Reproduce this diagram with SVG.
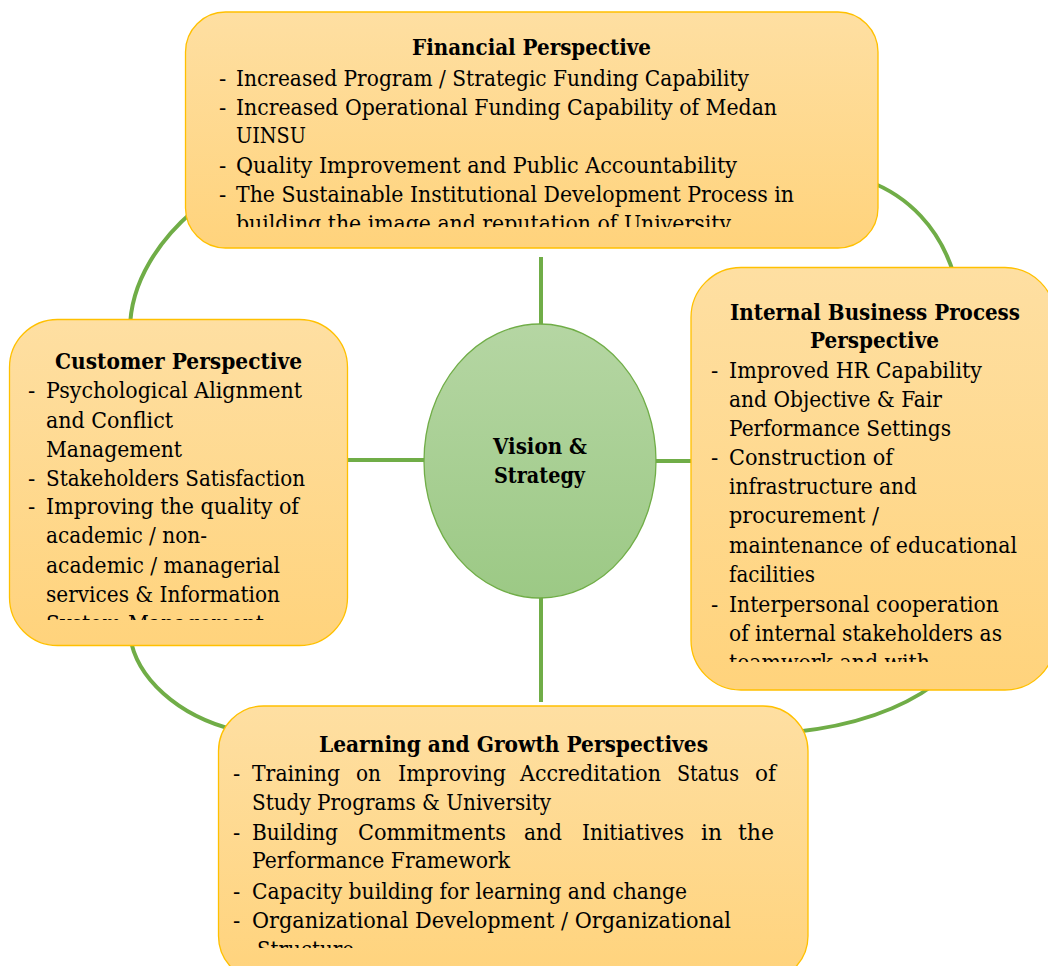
<svg xmlns="http://www.w3.org/2000/svg" width="1048" height="966" viewBox="0 0 1048 966">
<style>
.box{fill:url(#gBox);stroke:#FFC000;stroke-width:1.3}
.t{font-family:"DejaVu Serif","Liberation Serif",serif;font-size:21.5px;fill:#000}
.b{font-family:"DejaVu Serif","Liberation Serif",serif;font-size:21.5px;font-weight:bold;fill:#000}
.c{fill:none;stroke:#70AD47;stroke-width:4}
</style>
<defs>
<linearGradient id="gBox" x1="0" y1="0" x2="0" y2="1">
<stop offset="0" stop-color="#FEDFA2"/>
<stop offset="1" stop-color="#FFD37C"/>
</linearGradient>
<linearGradient id="gEll" x1="0" y1="0" x2="0" y2="1">
<stop offset="0" stop-color="#B5D6A3"/>
<stop offset="1" stop-color="#9CC985"/>
</linearGradient>
<clipPath id="cpF"><rect x="185" y="12" width="693" height="215"/></clipPath>
<clipPath id="cpC"><rect x="10" y="320" width="338" height="300"/></clipPath>
<clipPath id="cpI"><rect x="691" y="268" width="364" height="394"/></clipPath>
<clipPath id="cpL"><rect x="218" y="706" width="590" height="242"/></clipPath>
</defs>

<g id="connectors">
<path class="c" d="M192,212 C162,238 130,280 130,330"/>
<path class="c" d="M868,181 C908,196 940,228 954,275"/>
<path class="c" d="M130,636 C136,678 178,716 235,730"/>
<path class="c" d="M795,732 C850,726 900,710 935,684"/>
<line class="c" x1="541" y1="257" x2="541" y2="326"/>
<line class="c" x1="541" y1="596" x2="541" y2="702"/>
<line class="c" x1="346" y1="460" x2="426" y2="460"/>
<line class="c" x1="654" y1="461" x2="692" y2="461"/>
</g>

<g id="financial">
<rect class="box" x="185.5" y="12" width="692.5" height="236" rx="40" ry="40"/>
<g clip-path="url(#cpF)">
<text class="b" x="412" y="55" textLength="239" lengthAdjust="spacingAndGlyphs">Financial Perspective</text>
<text class="t" x="219" y="86">-</text>
<text class="t" x="236" y="86" textLength="513" lengthAdjust="spacingAndGlyphs">Increased Program / Strategic Funding Capability</text>
<text class="t" x="219" y="115">-</text>
<text class="t" x="236" y="115" textLength="541" lengthAdjust="spacingAndGlyphs">Increased Operational Funding Capability of Medan</text>
<text class="t" x="236" y="143" textLength="70" lengthAdjust="spacingAndGlyphs">UINSU</text>
<text class="t" x="219" y="173">-</text>
<text class="t" x="236" y="173" textLength="501" lengthAdjust="spacingAndGlyphs">Quality Improvement and Public Accountability</text>
<text class="t" x="219" y="202">-</text>
<text class="t" x="236" y="202" textLength="558" lengthAdjust="spacingAndGlyphs">The Sustainable Institutional Development Process in</text>
<text class="t" x="236" y="231" textLength="495" lengthAdjust="spacingAndGlyphs">building the image and reputation of University</text>
</g>
</g>

<g id="customer">
<rect class="box" x="9.5" y="319.5" width="338" height="326" rx="48" ry="48"/>
<g clip-path="url(#cpC)">
<text class="b" x="55" y="369" textLength="247" lengthAdjust="spacingAndGlyphs">Customer Perspective</text>
<text class="t" x="28" y="398">-</text>
<text class="t" x="46" y="398" textLength="256" lengthAdjust="spacingAndGlyphs">Psychological Alignment</text>
<text class="t" x="46" y="428" textLength="127" lengthAdjust="spacingAndGlyphs">and Conflict</text>
<text class="t" x="46" y="457" textLength="136" lengthAdjust="spacingAndGlyphs">Management</text>
<text class="t" x="28" y="486">-</text>
<text class="t" x="46" y="486" textLength="259" lengthAdjust="spacingAndGlyphs">Stakeholders Satisfaction</text>
<text class="t" x="28" y="514">-</text>
<text class="t" x="46" y="514" textLength="253" lengthAdjust="spacingAndGlyphs">Improving the quality of</text>
<text class="t" x="46" y="543" textLength="161" lengthAdjust="spacingAndGlyphs">academic / non-</text>
<text class="t" x="46" y="573" textLength="234" lengthAdjust="spacingAndGlyphs">academic / managerial</text>
<text class="t" x="46" y="602" textLength="234" lengthAdjust="spacingAndGlyphs">services &amp; Information</text>
<text class="t" x="46" y="631" textLength="218" lengthAdjust="spacingAndGlyphs">System Management</text>
</g>
</g>

<g id="internal">
<rect class="box" x="691" y="267.5" width="364" height="422.5" rx="50" ry="50"/>
<g clip-path="url(#cpI)">
<text class="b" x="730" y="320" textLength="290" lengthAdjust="spacingAndGlyphs">Internal Business Process</text>
<text class="b" x="810" y="348" textLength="129" lengthAdjust="spacingAndGlyphs">Perspective</text>
<text class="t" x="711" y="378">-</text>
<text class="t" x="729" y="378" textLength="253" lengthAdjust="spacingAndGlyphs">Improved HR Capability</text>
<text class="t" x="729" y="407" textLength="213" lengthAdjust="spacingAndGlyphs">and Objective &amp; Fair</text>
<text class="t" x="729" y="436" textLength="222" lengthAdjust="spacingAndGlyphs">Performance Settings</text>
<text class="t" x="711" y="465">-</text>
<text class="t" x="729" y="465" textLength="164" lengthAdjust="spacingAndGlyphs">Construction of</text>
<text class="t" x="729" y="494" textLength="188" lengthAdjust="spacingAndGlyphs">infrastructure and</text>
<text class="t" x="729" y="523" textLength="150" lengthAdjust="spacingAndGlyphs">procurement /</text>
<text class="t" x="729" y="553" textLength="288" lengthAdjust="spacingAndGlyphs">maintenance of educational</text>
<text class="t" x="729" y="582" textLength="86" lengthAdjust="spacingAndGlyphs">facilities</text>
<text class="t" x="711" y="612">-</text>
<text class="t" x="729" y="612" textLength="270" lengthAdjust="spacingAndGlyphs">Interpersonal cooperation</text>
<text class="t" x="729" y="641" textLength="273" lengthAdjust="spacingAndGlyphs">of internal stakeholders as</text>
<text class="t" x="729" y="670" textLength="201" lengthAdjust="spacingAndGlyphs">teamwork and with</text>
</g>
</g>

<g id="learning">
<rect class="box" x="218.5" y="706" width="589.5" height="275" rx="45" ry="45"/>
<g clip-path="url(#cpL)">
<text class="b" x="319" y="752" textLength="389" lengthAdjust="spacingAndGlyphs">Learning and Growth Perspectives</text>
<text class="t" x="233" y="781">-</text>
<text class="t" y="781"><tspan x="252" textLength="88" lengthAdjust="spacingAndGlyphs">Training</tspan><tspan x="356" textLength="25" lengthAdjust="spacingAndGlyphs">on</tspan><tspan x="398" textLength="108" lengthAdjust="spacingAndGlyphs">Improving</tspan><tspan x="520" textLength="141" lengthAdjust="spacingAndGlyphs">Accreditation</tspan><tspan x="677" textLength="62" lengthAdjust="spacingAndGlyphs">Status</tspan><tspan x="755" textLength="21" lengthAdjust="spacingAndGlyphs">of</tspan></text>
<text class="t" x="252" y="810" textLength="299" lengthAdjust="spacingAndGlyphs">Study Programs &amp; University</text>
<text class="t" x="233" y="840">-</text>
<text class="t" y="840"><tspan x="252" textLength="86" lengthAdjust="spacingAndGlyphs">Building</tspan><tspan x="358" textLength="148" lengthAdjust="spacingAndGlyphs">Commitments</tspan><tspan x="524" textLength="38" lengthAdjust="spacingAndGlyphs">and</tspan><tspan x="582" textLength="102" lengthAdjust="spacingAndGlyphs">Initiatives</tspan><tspan x="701" textLength="21" lengthAdjust="spacingAndGlyphs">in</tspan><tspan x="738" textLength="36" lengthAdjust="spacingAndGlyphs">the</tspan></text>
<text class="t" x="252" y="868" textLength="258" lengthAdjust="spacingAndGlyphs">Performance Framework</text>
<text class="t" x="233" y="899">-</text>
<text class="t" x="252" y="899" textLength="435" lengthAdjust="spacingAndGlyphs">Capacity building for learning and change</text>
<text class="t" x="233" y="928">-</text>
<text class="t" x="252" y="928" textLength="479" lengthAdjust="spacingAndGlyphs">Organizational Development / Organizational</text>
<text class="t" x="257" y="957" textLength="97" lengthAdjust="spacingAndGlyphs">Structure</text>
</g>
</g>

<g id="vision">
<ellipse cx="540" cy="461" rx="116" ry="137" fill="url(#gEll)" stroke="#70AD47" stroke-width="1.3"/>
<text class="b" x="493" y="454" textLength="94" lengthAdjust="spacingAndGlyphs">Vision &amp;</text>
<text class="b" x="494" y="483" textLength="91" lengthAdjust="spacingAndGlyphs">Strategy</text>
</g>
</svg>
